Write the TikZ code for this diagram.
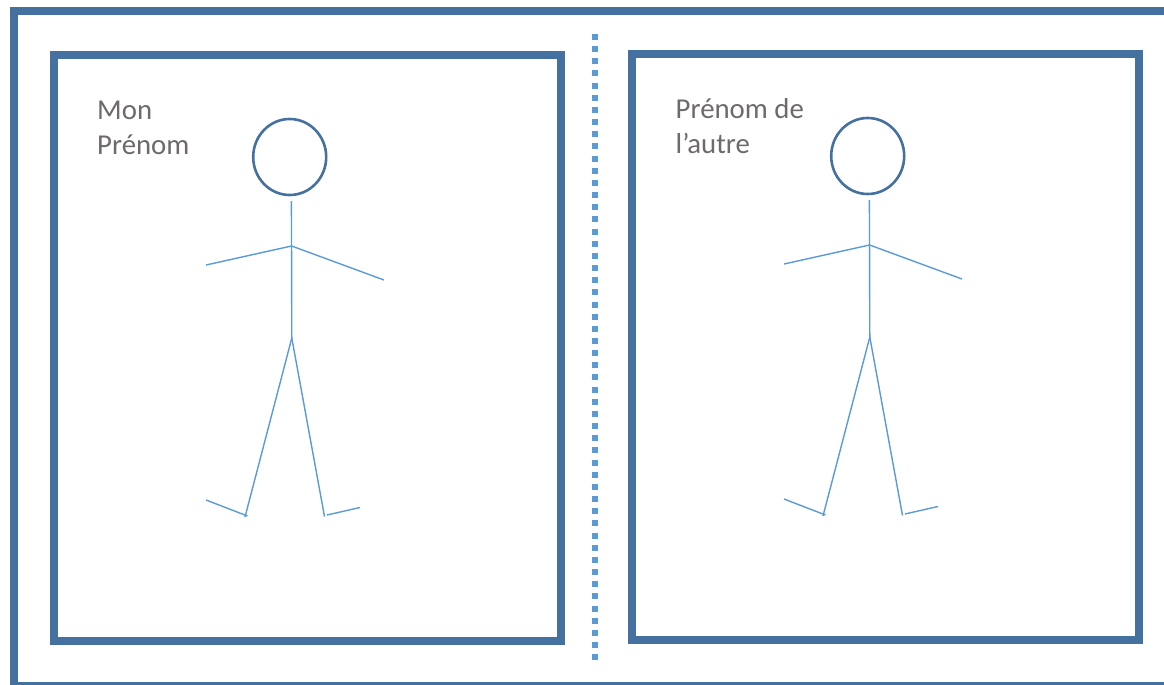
\documentclass[tikz,border=0pt]{standalone}
\usepackage{fontspec}
\setmainfont{Carlito}
\usetikzlibrary{shapes.geometric}
\definecolor{framec}{HTML}{44719F}
\definecolor{limbc}{HTML}{5B9BD5}
\definecolor{textc}{HTML}{6E6A6A}
\tikzset{
  frame/.style={draw=framec,line width=8pt,miter limit=10},
  outerframe/.style={draw=framec,line width=7.6pt},
  limb/.style={draw=limbc,line width=1.4pt},
  head/.style={ellipse,draw=framec,line width=2.6pt,inner sep=0pt,minimum width=73pt,minimum height=76pt},
  label/.style={text=textc,anchor=base west,inner sep=0pt,font=\fontsize{28.8}{28.8}\selectfont},
  divider/.style={draw=limbc,line width=6pt,dash pattern=on 6pt off 6.16pt},
  stickfigure/.pic={
    \node[head] (h) at (289.7,157) {};
    \coordinate (neck) at (291.4,201);
    \coordinate (shoulder) at (291.6,246);
    \coordinate (hip) at (291.8,338);
    \coordinate (handl) at (206,265);
    \coordinate (handr) at (384,280);
    \coordinate (anklel) at (245,517);
    \coordinate (ankler) at (324.5,516.5);
    \coordinate (toel) at (206,500);
    \coordinate (heell) at (247.5,516);
    \coordinate (heelr) at (327,515);
    \coordinate (toer) at (360,507.5);
    \draw[limb] (neck) -- (hip);
    \draw[limb] (shoulder) -- (handl);
    \draw[limb] (shoulder) -- (handr);
    \draw[limb] (hip) -- (anklel);
    \draw[limb] (hip) -- (ankler);
    \draw[limb] (toel) -- (heell);
    \draw[limb] (heelr) -- (toer);
  }
}
\begin{document}
\begin{tikzpicture}[x=1pt,y=-1pt]
\useasboundingbox (0,0) rectangle (1164,685);
\clip (0,0) rectangle (1164,685);
\fill[white] (0,0) rectangle (1164,685);
\draw[outerframe] (13.8,11.3) rectangle (1175,686);
\draw[frame] (54,55) rectangle (561,641);
\draw[frame] (632,54) rectangle (1138.7,639.7);
\coordinate (dtop) at (595,34);
\coordinate (dbot) at (595,660);
\draw[divider] (dtop) -- (dbot);
\pic (left) at (0,0) {stickfigure};
\pic (right) at (578,-1) {stickfigure};
\node[label] (t1a) at (97,119) {Mon};
\node[label] (t1b) at (97,154.5) {Prénom};
\node[label] (t2a) at (675.5,118) {Prénom de};
\node[label] (t2b) at (675.5,153) {l’autre};
\end{tikzpicture}
\end{document}
